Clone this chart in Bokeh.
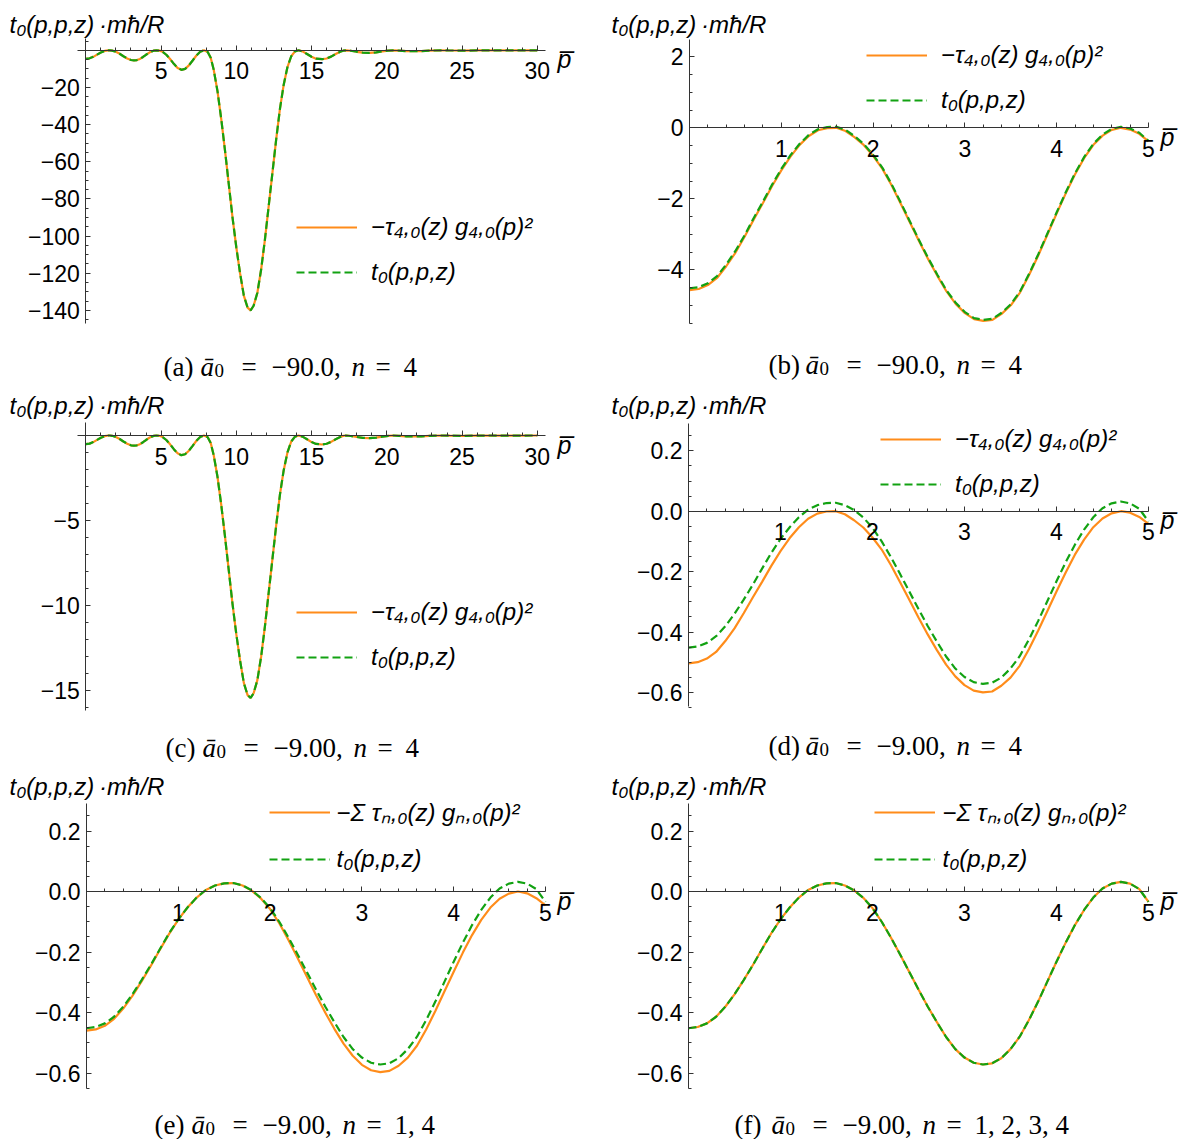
from bokeh.plotting import figure
from bokeh.models import (Range1d, FixedTicker, Label, Legend, LegendItem,
                          CustomJSTickFormatter)
from bokeh.layouts import column, row
from bokeh.embed import file_html
from bokeh.resources import INLINE

SANS = "Liberation Sans"
SERIF = "Liberation Serif"
ORANGE = "#FF8C1A"
GREEN = "#12A212"

# ---------------------------------------------------------------- data
# wide momentum range, 0 <= p <= 30 (panels a and c)
p_wide = [0.0, 0.25, 0.5, 0.75, 1.0, 1.25, 1.5, 1.6, 1.75, 2.0, 2.25, 2.5, 2.75,
          3.0, 3.2, 3.4, 3.6, 3.8, 4.0, 4.25, 4.5, 4.7, 4.9, 5.1, 5.35, 5.6, 5.85,
          6.1, 6.35, 6.6, 6.85, 7.1, 7.35, 7.6, 7.85, 8.1, 8.3, 8.5, 8.75, 9.0,
          9.25, 9.5, 9.75, 10.0, 10.25, 10.5, 10.75, 10.95, 11.15, 11.4, 11.65,
          11.9, 12.15, 12.4, 12.65, 12.9, 13.15, 13.4, 13.65, 13.9, 14.14, 14.4,
          14.7, 15.0, 15.3, 15.7, 16.0, 16.3, 16.6, 16.9, 17.1, 17.3, 17.6, 18.0,
          18.4, 18.85, 19.3, 19.7, 20.1, 20.42, 20.8, 21.3, 21.8, 22.3, 22.8,
          23.56, 24.2, 25.1, 26.0, 26.7, 27.5, 28.3, 29.1, 29.85, 30.0]

# a0 = -90.0, n = 4 term
tau4_a90_wide = [-4.57, -4.33, -3.52, -2.35, -1.20, -0.35, -0.01, 0.0, -0.17, -0.79,
                 -1.87, -3.19, -4.39, -5.22, -5.44, -5.24, -4.64, -3.59, -2.41, -1.08,
                 -0.22, 0.0, -0.17, -0.80, -2.40, -4.70, -7.30, -9.50, -10.50, -10.00,
                 -8.10, -5.50, -2.80, -0.80, 0.0, -0.9, -4.0, -10.5, -22.0, -37.0,
                 -54.0, -72.0, -90.0, -106.0, -120.0, -132.0, -138.5, -140.0, -137.5,
                 -130.5, -118.0, -102.0, -84.0, -66.0, -48.0, -31.5, -18.5, -9.0,
                 -3.2, -0.6, 0.0, -0.6, -2.0, -3.5, -4.5, -4.8, -4.4, -3.4, -2.0,
                 -0.8, -0.2, 0.0, -0.25, -0.8, -1.25, -1.4, -1.15, -0.6, -0.15, 0.0,
                 -0.15, -0.42, -0.52, -0.42, -0.18, 0.0, -0.1, -0.18, -0.08, 0.0,
                 -0.05, -0.06, -0.02, 0.0, -0.01]
t0_a90_wide = tau4_a90_wide

# a0 = -9.00, n = 4 term
tau4_a9_wide = [-0.504, -0.477, -0.388, -0.259, -0.132, -0.039, -0.001, 0.0, -0.019,
                -0.087, -0.206, -0.352, -0.484, -0.576, -0.600, -0.578, -0.512, -0.396,
                -0.266, -0.119, -0.024, 0.0, -0.019, -0.088, -0.265, -0.518, -0.805,
                -1.047, -1.158, -1.103, -0.893, -0.606, -0.309, -0.088, 0.0, -0.099,
                -0.441, -1.158, -2.426, -4.079, -5.954, -7.938, -9.923, -11.687,
                -13.230, -14.553, -15.270, -15.436, -15.160, -14.388, -13.010,
                -11.246, -9.261, -7.277, -5.292, -3.473, -2.040, -0.992, -0.353,
                -0.066, 0.0, -0.066, -0.221, -0.386, -0.496, -0.529, -0.485, -0.375,
                -0.221, -0.088, -0.022, 0.0, -0.028, -0.088, -0.138, -0.154, -0.127,
                -0.066, -0.017, 0.0, -0.017, -0.046, -0.057, -0.046, -0.020, 0.0,
                -0.011, -0.020, -0.009, 0.0, -0.006, -0.007, -0.002, 0.0, -0.001]
t0_a9_wide = tau4_a9_wide

# narrow momentum range, 0 <= p <= 5 (panels b, d, e, f)
p_fine = [0.0, 0.1, 0.2, 0.3, 0.4, 0.5, 0.6, 0.7, 0.8, 0.9, 1.0, 1.1, 1.2, 1.3, 1.4,
          1.5, 1.6, 1.7, 1.8, 1.9, 2.0, 2.1, 2.2, 2.3, 2.4, 2.5, 2.6, 2.7, 2.8, 2.9,
          3.0, 3.1, 3.2, 3.3, 3.4, 3.5, 3.6, 3.7, 3.8, 3.9, 4.0, 4.1, 4.2, 4.3, 4.4,
          4.5, 4.6, 4.7, 4.8, 4.9, 5.0]

tau4_a90_fine = [-4.57, -4.54, -4.43, -4.23, -3.90, -3.52, -3.07, -2.58, -2.12, -1.64,
                 -1.20, -0.81, -0.48, -0.23, -0.07, -0.01, 0.00, -0.09, -0.27, -0.49,
                 -0.79, -1.15, -1.61, -2.13, -2.66, -3.19, -3.70, -4.17, -4.61, -4.96,
                 -5.22, -5.39, -5.44, -5.41, -5.24, -5.00, -4.64, -4.14, -3.59, -3.00,
                 -2.41, -1.84, -1.31, -0.85, -0.48, -0.22, -0.06, 0.00, -0.05, -0.17,
                 -0.38]
t0_a90_fine = [-4.52, -4.49, -4.38, -4.18, -3.85, -3.47, -3.03, -2.54, -2.08, -1.60,
               -1.16, -0.77, -0.45, -0.20, -0.04, 0.02, 0.03, -0.06, -0.24, -0.46,
               -0.76, -1.12, -1.58, -2.10, -2.63, -3.16, -3.67, -4.14, -4.58, -4.93,
               -5.19, -5.36, -5.41, -5.38, -5.21, -4.97, -4.61, -4.11, -3.56, -2.97,
               -2.38, -1.81, -1.28, -0.82, -0.45, -0.19, -0.03, 0.03, -0.02, -0.14,
               -0.37]

tau4_a9_fine = [-0.504, -0.500, -0.488, -0.466, -0.430, -0.388, -0.338, -0.285, -0.234,
                -0.181, -0.132, -0.089, -0.053, -0.025, -0.008, -0.001, 0.000, -0.010,
                -0.030, -0.054, -0.087, -0.127, -0.178, -0.235, -0.293, -0.352, -0.408,
                -0.460, -0.508, -0.547, -0.576, -0.594, -0.600, -0.597, -0.578, -0.551,
                -0.512, -0.457, -0.396, -0.331, -0.266, -0.203, -0.144, -0.094, -0.053,
                -0.024, -0.007, 0.000, -0.005, -0.019, -0.042]
t0_a9_fine = [-0.452, -0.448, -0.436, -0.414, -0.381, -0.340, -0.293, -0.243, -0.190,
              -0.138, -0.092, -0.053, -0.020, 0.005, 0.020, 0.027, 0.028, 0.020, 0.004,
              -0.021, -0.055, -0.100, -0.152, -0.208, -0.266, -0.324, -0.380, -0.432,
              -0.481, -0.521, -0.549, -0.566, -0.572, -0.568, -0.551, -0.521, -0.480,
              -0.425, -0.364, -0.298, -0.232, -0.169, -0.111, -0.061, -0.020, 0.010,
              0.026, 0.032, 0.026, 0.008, -0.034]
sum14_a9_fine = [-0.460, -0.456, -0.444, -0.421, -0.387, -0.345, -0.297, -0.246, -0.192,
                 -0.140, -0.093, -0.053, -0.020, 0.005, 0.020, 0.027, 0.028, 0.020,
                 0.003, -0.023, -0.058, -0.105, -0.160, -0.220, -0.281, -0.342, -0.400,
                 -0.454, -0.503, -0.543, -0.573, -0.591, -0.597, -0.593, -0.576, -0.549,
                 -0.510, -0.456, -0.395, -0.330, -0.265, -0.202, -0.144, -0.094, -0.053,
                 -0.024, -0.007, 0.000, -0.006, -0.022, -0.046]
sum1234_a9_fine = t0_a9_fine

# tick positions
wide_xticks = [5, 10, 15, 20, 25, 30]
fine_xticks = [1, 2, 3, 4, 5]
a_yticks = [-140, -120, -100, -80, -60, -40, -20]
b_yticks = [-4, -2, 0, 2]
c_yticks = [-15, -10, -5]
d_yticks = [-0.6, -0.4, -0.2, 0.0, 0.2]

wide_xminor = [v for v in range(1, 31) if v % 5]
fine_xminor = [round(0.2 * k, 1) for k in range(1, 25) if k % 5]
a_yminor = [v for v in range(-145, 10, 5) if v % 20 and v != 0]
b_yminor = [0.5 * k for k in range(-11, 5) if k % 4]
c_yminor = [v for v in range(-16, 0) if v % 5]
d_yminor = [round(0.05 * k, 2) for k in range(-13, 6) if k % 4]

# text
YLABEL = "t\u2080(p,p,z)\u2009\u00b7m\u0127/R"
LEG_TERM = "\u2212\u03c4\u2084,\u2080(z) g\u2084,\u2080(p)\u00b2"
LEG_SUM = "\u2212\u03a3 \u03c4\u2099,\u2080(z) g\u2099,\u2080(p)\u00b2"
LEG_T0 = "t\u2080(p,p,z)"
PBAR = "p\u0305"


def fmt(decimals):
    return CustomJSTickFormatter(code=(
        "const s = Math.abs(tick).toFixed(%d);"
        "return tick < 0 ? '\u2212' + s : s;" % decimals))


def style_axis(ax, ticks, minor, decimals, standoff, bounds):
    ax.ticker = FixedTicker(ticks=ticks, minor_ticks=minor)
    ax.formatter = fmt(decimals)
    ax.fixed_location = 0
    ax.bounds = bounds
    ax.axis_line_color = "#333333"
    ax.axis_line_width = 1
    ax.major_tick_line_color = "#333333"
    ax.minor_tick_line_color = "#333333"
    ax.major_tick_in = 5
    ax.major_tick_out = 0
    ax.minor_tick_in = 3
    ax.minor_tick_out = 0
    ax.major_label_standoff = standoff
    ax.major_label_text_font = SANS
    ax.major_label_text_font_size = "23px"
    ax.major_label_text_color = "black"


def panel(W, H, origin, scale, xlim, ylim, xt, yt, px, orange, green, leg_label,
          leg_left, leg_row, leg_standoff, ylab_x, cap_x, cap_base, cap_letter,
          cap_value, cap_n):
    """One panel; origin is the pixel position of (0, 0) inside the panel and
    scale the number of pixels per data unit along x and y."""
    ox, oy = origin
    sx, sy = scale
    xr = (-ox / sx, (W - ox) / sx)
    yr = ((oy - H) / sy, oy / sy)
    p = figure(width=W, height=H, x_range=Range1d(*xr), y_range=Range1d(*yr),
               output_backend="svg", toolbar_location=None, min_border=0)
    p.outline_line_color = None
    p.xgrid.visible = False
    p.ygrid.visible = False
    p.background_fill_color = "white"
    p.border_fill_color = "white"

    style_axis(p.xaxis[0], xt[0], xt[1], 0, 12, xlim)
    style_axis(p.yaxis[0], yt[0], yt[1], yt[2], 6, ylim)

    r1 = p.line(px, orange, line_color=ORANGE, line_width=2.2)
    r2 = p.line(px, green, line_color=GREEN, line_width=2.2, line_dash="8 4")

    row_h, gap = 26, 17
    leg_bottom = leg_row - row_h / 2 + 2 * row_h + gap
    legend = Legend(items=[LegendItem(label=leg_label, renderers=[r1]),
                           LegendItem(label=LEG_T0, renderers=[r2])],
                    location=(leg_left, H - leg_bottom), padding=0, margin=0,
                    spacing=gap, glyph_width=61, glyph_height=row_h,
                    label_height=row_h, label_standoff=leg_standoff,
                    label_text_font=SANS, label_text_font_style="italic",
                    label_text_font_size="24px", label_text_color="black",
                    background_fill_alpha=0, border_line_alpha=0)
    p.add_layout(legend)

    def text(cx, cy, s, font, size, style="normal"):
        p.add_layout(Label(x=0, y=0, x_offset=cx - ox, y_offset=oy - cy, text=s,
                           text_font=font, text_font_style=style,
                           text_font_size="%dpx" % size,
                           text_baseline="alphabetic", text_align="left",
                           text_color="black"))

    # quantity label above the vertical axis
    text(ylab_x, 23.5, YLABEL, SANS, 24, "italic")
    # momentum label at the end of the horizontal axis
    text(ox + xlim[1] * sx + 12, oy + 9, PBAR, SANS, 25, "italic")
    # caption under the panel
    pieces = [(cap_letter, 0, 27, "normal", 0),
              ("\u0101", 37, 27, "italic", 0),
              ("0", 51, 19, "normal", 4),
              ("=", 78, 27, "normal", 0),
              (cap_value, 108, 27, "normal", 0),
              ("n", 188, 27, "italic", 0),
              ("=", 212, 27, "normal", 0),
              (cap_n, 240, 27, "normal", 0)]
    for s, dx, size, style, drop in pieces:
        text(cap_x + dx, cap_base + drop, s, SERIF, size, style)
    return p


wide_x = (wide_xticks, wide_xminor)
fine_x = (fine_xticks, fine_xminor)

pa = panel(593, 381, (85.3, 49.8), (15.05, 1.858), (-0.55, 30.55), (-147.0, 6.35),
           wide_x, (a_yticks, a_yminor, 0), p_wide, tau4_a90_wide, t0_a90_wide,
           LEG_TERM, 296, 230, 14, 9, 163, 366, "(a)", "\u221290.0,", "4")
pb = panel(594, 381, (96.0, 127.3), (91.8, 35.5), (0.0, 5.0), (-5.51, 2.49),
           fine_x, (b_yticks, b_yminor, 0), p_fine, tau4_a90_fine, t0_a90_fine,
           LEG_TERM, 273, 58.3, 14, 18, 175, 364, "(b)", "\u221290.0,", "4")
pc = panel(593, 381, (85.3, 54.0), (15.05, 17.0), (-0.55, 30.55), (-16.18, 0.76),
           wide_x, (c_yticks, c_yminor, 0), p_wide, tau4_a9_wide, t0_a9_wide,
           LEG_TERM, 296, 234, 14, 9, 165, 366, "(c)", "\u22129.00,", "4")
pd = panel(594, 381, (95.0, 129.7), (92.0, 302.0), (0.0, 5.0), (-0.647, 0.290),
           fine_x, (d_yticks, d_yminor, 1), p_fine, tau4_a9_fine, t0_a9_fine,
           LEG_TERM, 287, 60.7, 14, 18, 175, 364, "(d)", "\u22129.00,", "4")
pe = panel(593, 377, (86.0, 129.0), (91.8, 302.5), (0.0, 5.0), (-0.651, 0.291),
           fine_x, (d_yticks, d_yminor, 1), p_fine, sum14_a9_fine, t0_a9_fine,
           LEG_SUM, 268.6, 55.3, 7, 9, 154, 362, "(e)", "\u22129.00,", "1, 4")
pf = panel(594, 377, (95.0, 129.0), (92.0, 302.5), (0.0, 5.0), (-0.651, 0.291),
           fine_x, (d_yticks, d_yminor, 1), p_fine, sum1234_a9_fine, t0_a9_fine,
           LEG_SUM, 280.5, 55.3, 8, 18, 141, 362, "(f)", "\u22129.00,", "1, 2, 3, 4")

layout = column(row(pa, pb), row(pc, pd), row(pe, pf))

with open("out.html", "w") as fh:
    fh.write(file_html(layout, INLINE))
